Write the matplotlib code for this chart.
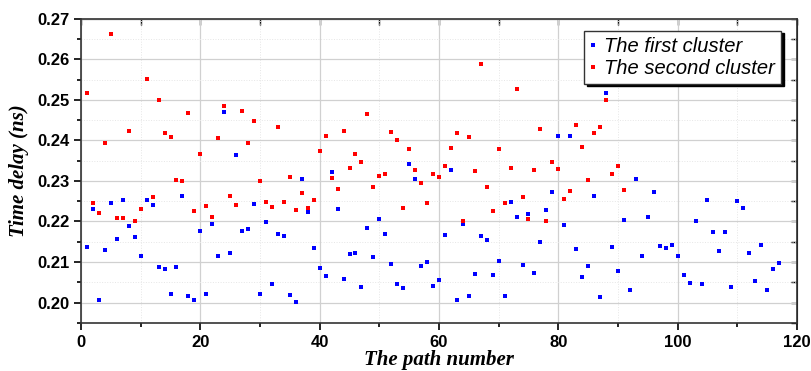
import matplotlib.pyplot as plt
from matplotlib.ticker import MultipleLocator, FormatStrFormatter

# path numbers
path_first = list(range(1, 118))
path_second = list(range(1, 92))

delay_first = [
    0.2137, 0.2230, 0.2005, 0.2130, 0.2245, 0.2158, 0.2254, 0.2190, 0.2162, 0.2115,
    0.2252, 0.2241, 0.2088, 0.2083, 0.2020, 0.2088, 0.2262, 0.2015, 0.2007, 0.2177,
    0.2020, 0.2195, 0.2116, 0.2470, 0.2123, 0.2364, 0.2176, 0.2182, 0.2243, 0.2022,
    0.2199, 0.2046, 0.2169, 0.2163, 0.2018, 0.2002, 0.2305, 0.2223, 0.2135, 0.2084,
    0.2066, 0.2321, 0.2230, 0.2058, 0.2120, 0.2121, 0.2039, 0.2183, 0.2112, 0.2206,
    0.2168, 0.2094, 0.2045, 0.2036, 0.2341, 0.2304, 0.2091, 0.2101, 0.2041, 0.2056,
    0.2167, 0.2326, 0.2005, 0.2194, 0.2015, 0.2071, 0.2164, 0.2154, 0.2069, 0.2102,
    0.2016, 0.2248, 0.2210, 0.2093, 0.2219, 0.2074, 0.2149, 0.2228, 0.2272, 0.2412,
    0.2192, 0.2410, 0.2133, 0.2063, 0.2091, 0.2263, 0.2013, 0.2517, 0.2137, 0.2077,
    0.2204, 0.2032, 0.2305, 0.2116, 0.2210, 0.2272, 0.2139, 0.2135, 0.2143, 0.2114,
    0.2068, 0.2047, 0.2202, 0.2046, 0.2253, 0.2174, 0.2127, 0.2174, 0.2039, 0.2250,
    0.2233, 0.2121, 0.2054, 0.2142, 0.2031, 0.2083, 0.2098,
]

delay_second = [
    0.2516, 0.2245, 0.2220, 0.2394, 0.2664, 0.2208, 0.2208, 0.2423, 0.2200, 0.2232,
    0.2551, 0.2260, 0.2499, 0.2418, 0.2408, 0.2303, 0.2299, 0.2469, 0.2225, 0.2366,
    0.2239, 0.2210, 0.2406, 0.2486, 0.2262, 0.2241, 0.2473, 0.2394, 0.2448, 0.2299,
    0.2248, 0.2236, 0.2434, 0.2247, 0.2309, 0.2229, 0.2270, 0.2234, 0.2254, 0.2373,
    0.2412, 0.2307, 0.2279, 0.2423, 0.2333, 0.2366, 0.2346, 0.2465, 0.2286, 0.2313,
    0.2317, 0.2420, 0.2400, 0.2233, 0.2380, 0.2328, 0.2294, 0.2245, 0.2318, 0.2310,
    0.2336, 0.2381, 0.2419, 0.2202, 0.2408, 0.2324, 0.2589, 0.2284, 0.2225, 0.2378,
    0.2246, 0.2332, 0.2527, 0.2261, 0.2205, 0.2327, 0.2428, 0.2200, 0.2346, 0.2330,
    0.2256, 0.2276, 0.2437, 0.2385, 0.2303, 0.2419, 0.2433, 0.2501, 0.2318, 0.2337,
    0.2277,
]

fig = plt.figure(figsize=(8.11, 3.71), dpi=100)
ax = fig.add_axes([0.0999, 0.130, 0.8828, 0.819])

ax.plot(path_first, delay_first, 's', color="#0000ff", markersize=3, mew=0,
        label="The first cluster")
ax.plot(path_second, delay_second, 's', color="#ff0000", markersize=3, mew=0,
        label="The second cluster")

ax.set_xlim(0, 120)
ax.set_ylim(0.195, 0.27)
ax.xaxis.set_major_locator(MultipleLocator(20))
ax.xaxis.set_minor_locator(MultipleLocator(10))
ax.yaxis.set_major_locator(MultipleLocator(0.01))
ax.yaxis.set_minor_locator(MultipleLocator(0.005))
ax.yaxis.set_major_formatter(FormatStrFormatter("%.2f"))

ax.grid(True, which="major", color="#d0d0d0", linewidth=0.9)
ax.grid(True, which="minor", color="#e6e6e6", linewidth=0.7, linestyle=":")
ax.set_axisbelow(True)

ax.tick_params(which="both", direction="out", width=1.2, top=False, right=False)
ax.tick_params(which="major", length=5)
ax.tick_params(which="minor", length=3)
for s in ax.spines.values():
    s.set_linewidth(1.2)
    s.set_color("#333333")

ax2 = ax.secondary_yaxis("right")
ax2.yaxis.set_major_locator(MultipleLocator(0.005))
ax2.tick_params(direction="in", length=4, width=1.0, labelright=False)
ax3 = ax.secondary_xaxis("top")
ax3.xaxis.set_major_locator(MultipleLocator(10))
ax3.tick_params(direction="in", length=4, width=1.0, labeltop=False)

tick_font = ["Liberation Sans Narrow", "Liberation Sans", "DejaVu Sans"]
for lab in ax.get_xticklabels() + ax.get_yticklabels():
    lab.set_family(tick_font)
    lab.set_fontweight("bold")
    lab.set_fontsize(12)

ax.set_xlabel("The path number", family="Liberation Serif", style="italic",
              fontweight="bold", fontsize=15, labelpad=0)
ax.set_ylabel("Time delay (ns)", family="Liberation Serif", style="italic",
              fontweight="bold", fontsize=15, labelpad=6)

leg = ax.legend(loc="upper right", bbox_to_anchor=(0.992, 0.995), frameon=True,
                fancybox=False, edgecolor="#333333", framealpha=1,
                shadow={"color": "black", "alpha": 1}, markerscale=1.0,
                handlelength=0.3, handletextpad=0.4, borderpad=0.3,
                labelspacing=0.15, prop={"family": "Liberation Sans",
                                         "style": "italic", "size": 14.5})
leg.get_frame().set_linewidth(1.0)

fig.savefig("out.png", dpi=100)
